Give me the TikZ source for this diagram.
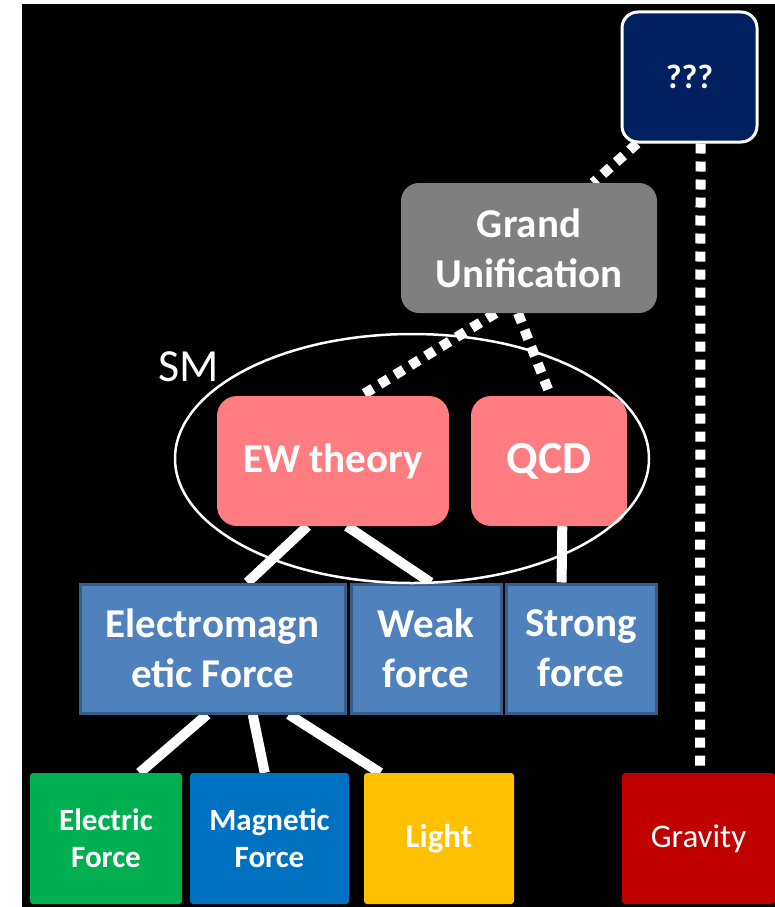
\documentclass[tikz,border=0pt]{standalone}
\usepackage{fontspec}
\setmainfont{Carlito}
\usetikzlibrary{calc,shapes.geometric}
\definecolor{navy}{HTML}{002060}
\definecolor{gugray}{HTML}{7F7F7F}
\definecolor{salmon}{HTML}{FF7C80}
\definecolor{bluefill}{HTML}{4F81BD}
\definecolor{blueedge}{HTML}{385D8A}
\definecolor{egreen}{HTML}{00B050}
\definecolor{mblue}{HTML}{0070C0}
\definecolor{lgold}{HTML}{FFC000}
\definecolor{gred}{HTML}{C00000}
\pgfdeclarelayer{bg}
\pgfdeclarelayer{edges}
\pgfsetlayers{bg,edges,main}
\tikzset{
  boxbase/.style={inner sep=0pt, align=center, text=white, font=\bfseries},
  navybox/.style={boxbase, fill=navy, draw=white, line width=3pt, rounded corners=16pt},
  graybox/.style={boxbase, fill=gugray, rounded corners=18pt},
  pinkbox/.style={boxbase, fill=salmon, rounded corners=20pt},
  bluebox/.style={boxbase, fill=bluefill, draw=blueedge, line width=3pt},
  basebox/.style={boxbase, rounded corners=3pt},
  solidline/.style={white, line width=10pt},
  dotline/.style={white, line width=10pt, dash pattern=on 10pt off 8pt},
}
\begin{document}
\begin{tikzpicture}[x=1pt,y=-1pt]
\useasboundingbox (0,0) rectangle (775,907);
\begin{pgfonlayer}{bg}
\fill[white] (0,0) rectangle (775,907);
\fill[black] (22,4) rectangle (775,907);
\end{pgfonlayer}

\node[navybox, minimum width=135pt, minimum height=130pt, font=\bfseries\fontsize{34}{40}\selectfont] (q) at (689.5,77) {???};
\node[graybox, minimum width=256pt, minimum height=130pt, font=\bfseries\fontsize{41}{50}\selectfont] (gu) at (529,248) {Grand\\Unification};
\node[pinkbox, minimum width=232pt, minimum height=130pt, font=\bfseries\fontsize{41}{50}\selectfont] (ew) at (333,461) {EW theory};
\node[pinkbox, minimum width=156pt, minimum height=130pt, font=\bfseries\fontsize{46}{55}\selectfont] (qcd) at (549,461) {QCD};

\node[bluebox, minimum width=265pt, minimum height=129pt, font=\bfseries\fontsize{41}{50}\selectfont] (em) at (212.5,648.5) {Electromagn\\etic Force};
\node[bluebox, minimum width=150pt, minimum height=129pt, font=\bfseries\fontsize{41}{50}\selectfont] (weak) at (426,648.5) {Weak\\force};
\node[bluebox, minimum width=150pt, minimum height=129pt, font=\bfseries\fontsize{41}{50}\selectfont] (strong) at (581,648.5) {Strong\\force};

\node[basebox, fill=egreen, minimum width=152pt, minimum height=131pt, font=\bfseries\fontsize{31}{37}\selectfont] (elec) at (106,838.5) {Electric\\Force};
\node[basebox, fill=mblue, minimum width=159pt, minimum height=131pt, font=\bfseries\fontsize{31}{37}\selectfont] (mag) at (269.5,838.5) {Magnetic\\Force};
\node[basebox, fill=lgold, minimum width=150pt, minimum height=131pt, font=\bfseries\fontsize{33}{40}\selectfont] (light) at (439,838.5) {Light};
\node[basebox, fill=gred, minimum width=153pt, minimum height=131pt, font=\fontsize{33}{40}\selectfont] (grav) at (698.5,838.5) {Gravity};

\node[ellipse, draw=white, line width=2.5pt, minimum width=474pt, minimum height=249pt, inner sep=0pt] (sm) at (412,458.5) {};
\node[text=white, font=\fontsize{46}{55}\selectfont, inner sep=0pt] (smlabel) at (189,367) {SM};

\begin{pgfonlayer}{edges}
\draw[dotline] ($(q.south west)!0.12!(q.south east)$) -- ($(gu.north west)!0.75!(gu.north east)$);
\draw[dotline] ($(q.south west)!0.58!(q.south east)$) -- ($(grav.north west)!0.51!(grav.north east)$);
\draw[dotline] ($(gu.south west)!0.37!(gu.south east)$) -- ($(ew.north west)!0.62!(ew.north east)$);
\draw[dotline] ($(gu.south west)!0.457!(gu.south east)$) -- ($(qcd.north west)!0.51!(qcd.north east)$);

\draw[solidline] ($(ew.south west)!0.39!(ew.south east)$) -- ($(em.north west)!0.63!(em.north east)$);
\draw[solidline] ($(ew.south west)!0.56!(ew.south east)$) -- ($(weak.north west)!0.53!(weak.north east)$);
\draw[solidline] ($(qcd.south west)!0.585!(qcd.south east)$) -- ($(strong.north west)!0.373!(strong.north east)$);

\draw[solidline] ($(em.south west)!0.48!(em.south east)$) -- ($(elec.north west)!0.72!(elec.north east)$);
\draw[solidline] ($(em.south west)!0.65!(em.south east)$) -- ($(mag.north west)!0.47!(mag.north east)$);
\draw[solidline] ($(em.south west)!0.785!(em.south east)$) -- ($(light.north west)!0.11!(light.north east)$);
\end{pgfonlayer}
\end{tikzpicture}
\end{document}
